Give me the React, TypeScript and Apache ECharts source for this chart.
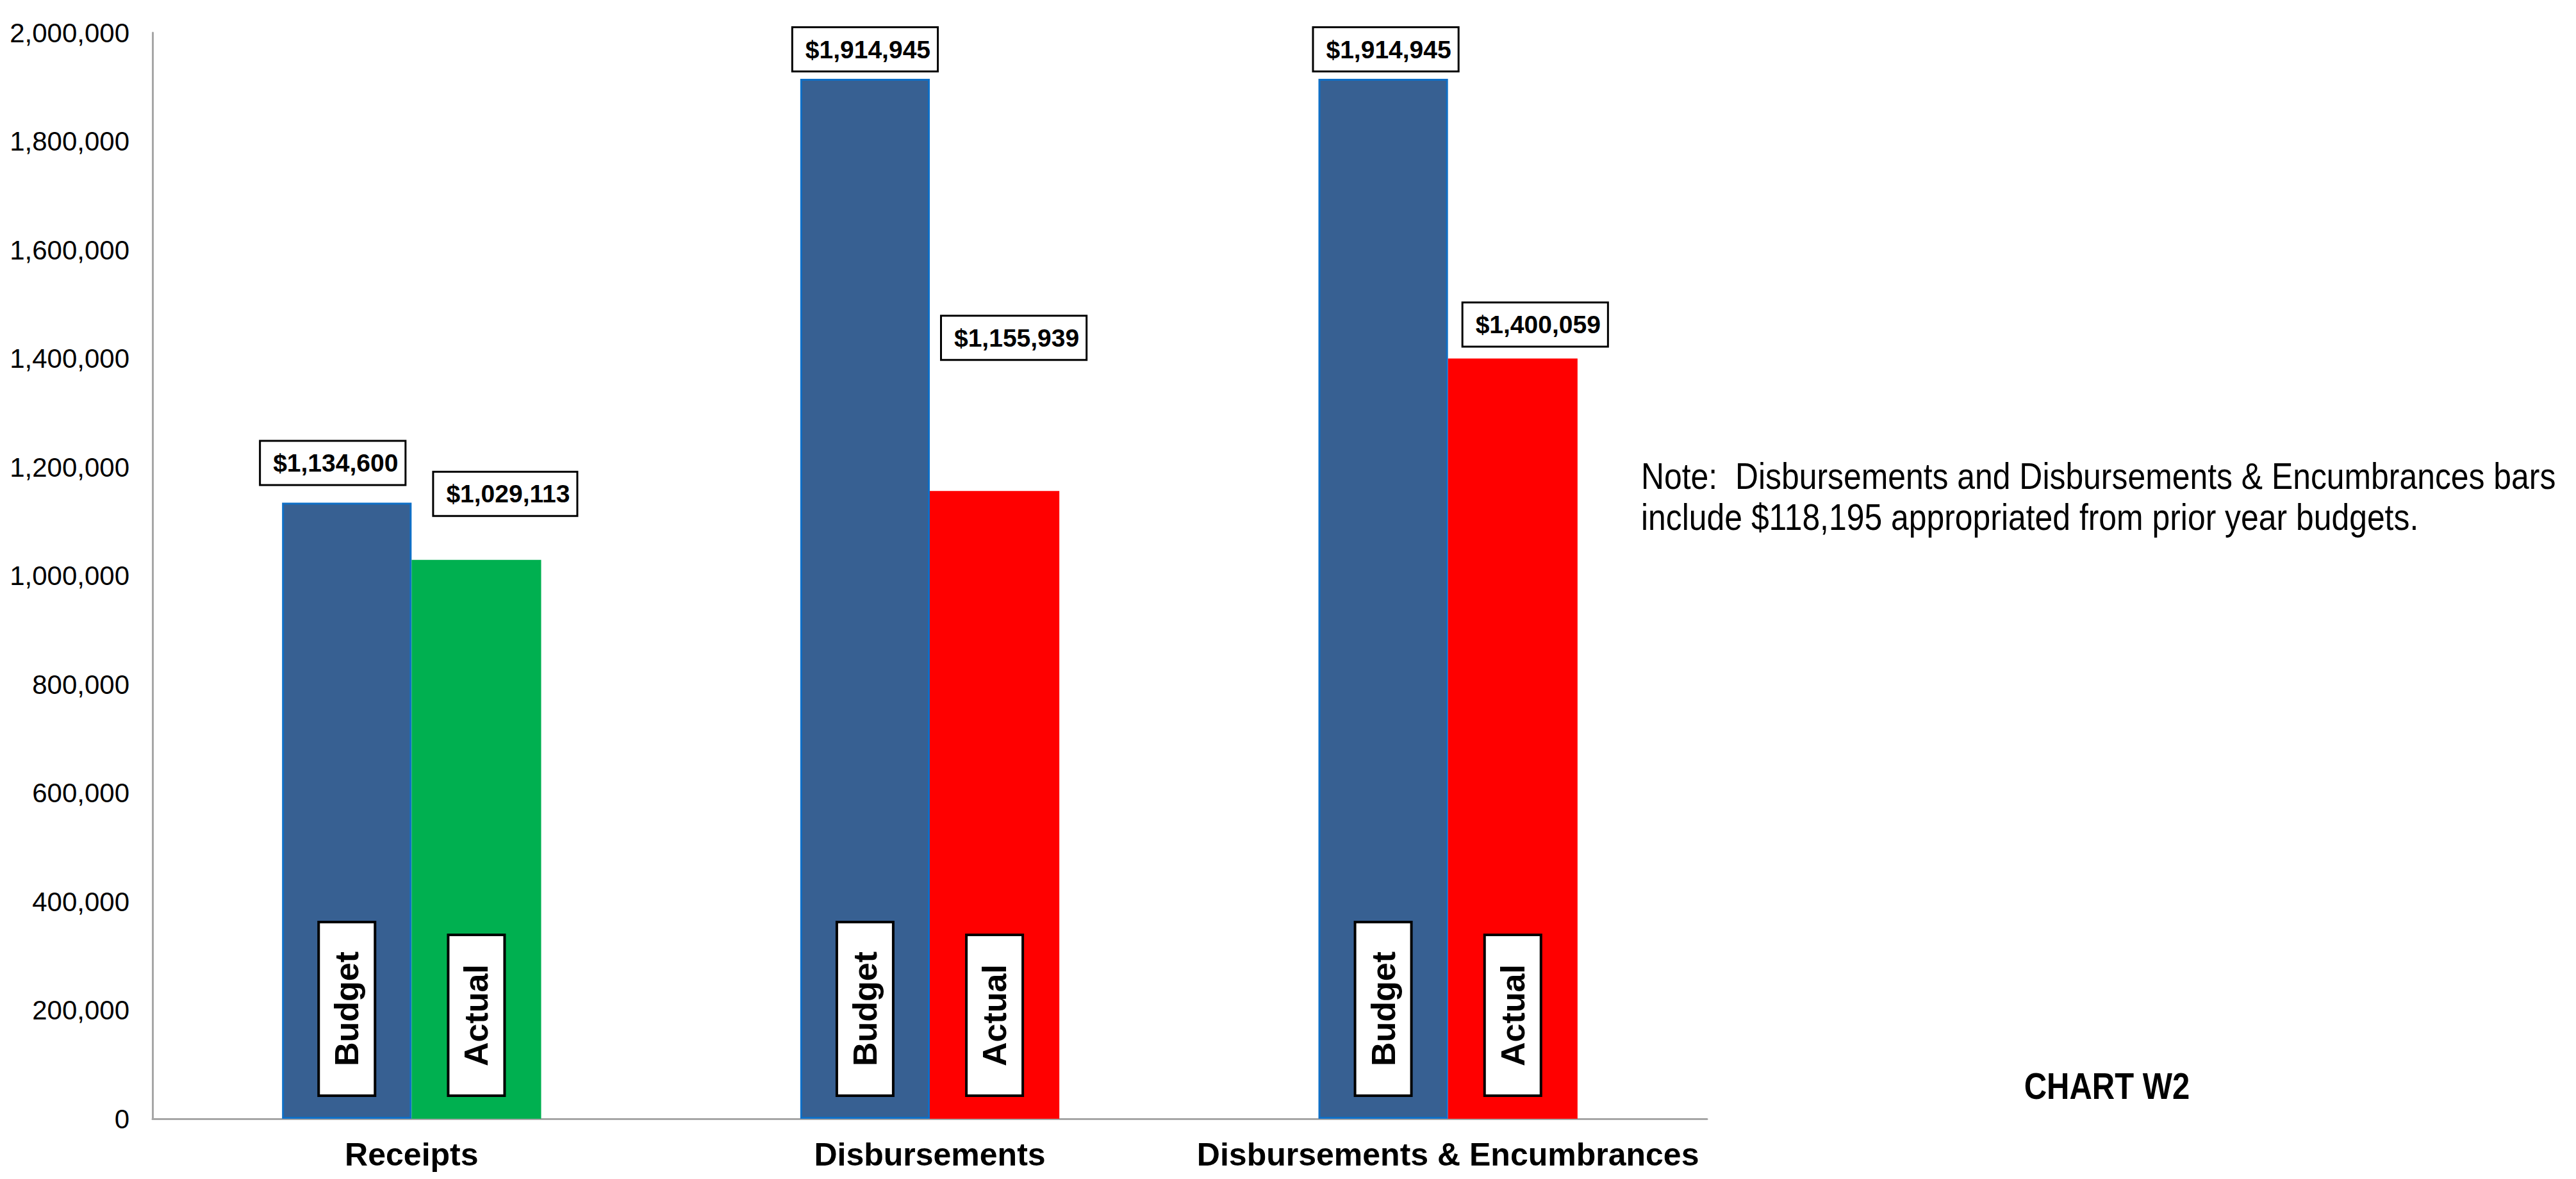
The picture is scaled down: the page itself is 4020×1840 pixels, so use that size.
import React, { useEffect, useRef } from "react";
import * as echarts from "echarts";

const categories = ["Receipts", "Disbursements", "Disbursements & Encumbrances"];
const budgetValues = [1134600, 1914945, 1914945];
const actualValues = [1029113, 1155939, 1400059];
const actualColors = ["#00B050", "#FF0000", "#FF0000"];
const yMin = 0;
const yMax = 2000000;
const yInterval = 200000;
const noteLines = [
  "Note:  Disbursements and Disbursements & Encumbrances bars",
  "include $118,195 appropriated from prior year budgets.",
];
const chartTitle = "CHART W2";

// label placement styling (pixel offsets), kept apart from data
const budgetLabelOffsets = [[-22, -29], [0, -13], [4, -13]];
const actualLabelOffsets = [[45, -70], [30, -206], [35, -20]];

const FONT = "'Liberation Sans', Arial, sans-serif";

const fmt = (v: number) => v.toLocaleString("en-US");

export default function App() {
  const ref = useRef<HTMLDivElement>(null);
  useEffect(() => {
    if (!ref.current) return;
    const chart = echarts.init(ref.current, null, { renderer: "svg" });

    const valueLabel = {
      show: true,
      position: "top" as const,
      distance: 0,
      formatter: (p: any) => "$" + fmt(p.value),
      color: "#000",
      fontFamily: FONT,
      fontWeight: "bold" as const,
      fontSize: 39,
      lineHeight: 44,
      backgroundColor: "#fff",
      borderColor: "#000",
      borderWidth: 3,
      padding: [11, 10, 11, 19],
    };

    const innerLabel = (txt: string) => ({
      show: true,
      position: "insideBottom" as const,
      distance: 38,
      rotate: 90,
      align: "left" as const,
      verticalAlign: "middle" as const,
      formatter: txt,
      color: "#000",
      fontFamily: FONT,
      fontWeight: "bold" as const,
      fontSize: 52,
      lineHeight: 54,
      backgroundColor: "#fff",
      borderColor: "#000",
      borderWidth: 4,
      padding: [15, 44, 15, 44],
    });

    const option: any = {
      animation: false,
      backgroundColor: "#fff",
      grid: { left: 238, right: 1356, top: 51, bottom: 94, containLabel: false },
      xAxis: [
        {
          type: "category",
          data: categories,
          axisLine: { show: true, lineStyle: { color: "#A6A6A6", width: 3 } },
          axisTick: { show: false },
          axisLabel: {
            color: "#000",
            fontFamily: FONT,
            fontWeight: "bold",
            fontSize: 50,
            margin: 31,
            interval: 0,
          },
          splitLine: { show: false },
        },
        {
          type: "category",
          data: categories,
          show: false,
        },
      ],
      yAxis: {
        type: "value",
        min: yMin,
        max: yMax,
        interval: yInterval,
        axisLine: { show: true, lineStyle: { color: "#A6A6A6", width: 3 } },
        axisTick: { show: false },
        splitLine: { show: false },
        axisLabel: {
          color: "#000",
          fontFamily: FONT,
          fontSize: 42,
          margin: 36,
          formatter: (v: number) => fmt(v),
        },
      },
      series: [
        {
          name: "Budget",
          type: "bar",
          xAxisIndex: 0,
          data: budgetValues,
          barGap: "0%",
          barCategoryGap: "50%",
          itemStyle: { color: "#376092", borderColor: "#0F6FC6", borderWidth: 3 },
          label: innerLabel("Budget"),
        },
        {
          name: "Actual",
          type: "bar",
          xAxisIndex: 0,
          data: actualValues.map((v, i) => ({ value: v, itemStyle: { color: actualColors[i] } })),
          barGap: "0%",
          barCategoryGap: "50%",
          label: innerLabel("Actual"),
        },
        {
          name: "Budget value",
          type: "bar",
          xAxisIndex: 1,
          data: budgetValues.map((v, i) => ({ value: v, label: { offset: budgetLabelOffsets[i] } })),
          barGap: "0%",
          barCategoryGap: "50%",
          itemStyle: { color: "transparent" },
          label: valueLabel,
          silent: true,
        },
        {
          name: "Actual value",
          type: "bar",
          xAxisIndex: 1,
          data: actualValues.map((v, i) => ({ value: v, label: { offset: actualLabelOffsets[i] } })),
          barGap: "0%",
          barCategoryGap: "50%",
          itemStyle: { color: "transparent" },
          label: valueLabel,
          silent: true,
        },
      ],
      graphic: [
        {
          type: "text",
          x: 2561,
          y: 711,
          scaleX: 0.86,
          style: {
            text: noteLines.join("\n"),
            fill: "#000",
            font: `58px ${FONT}`,
            lineHeight: 64,
            verticalAlign: "top",
          },
        },
        {
          type: "text",
          x: 3288,
          y: 1695,
          scaleX: 0.86,
          style: {
            text: chartTitle,
            fill: "#000",
            font: `bold 57px ${FONT}`,
            align: "center",
            verticalAlign: "middle",
          },
        },
      ],
    };
    chart.setOption(option);
    return () => chart.dispose();
  }, []);
  return (
    <div
      ref={ref}
      style={{ position: "absolute", left: 0, top: 0, width: 4020, height: 1840, background: "#fff" }}
    />
  );
}
